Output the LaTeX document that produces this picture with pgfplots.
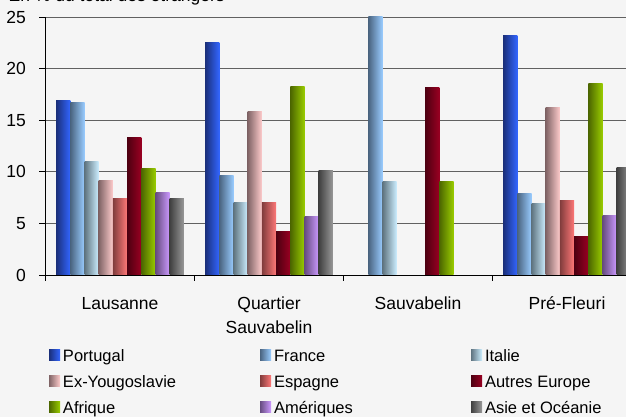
\documentclass[border=0pt]{standalone}
\usepackage{fontspec}
\setmainfont{Liberation Sans}
\usepackage{pgfplots}
\pgfplotsset{compat=1.18}
\definecolor{bg}{HTML}{F5F5F5}
\definecolor{ptA}{HTML}{1A2F7A}\definecolor{ptB}{HTML}{3366FF}
\definecolor{frA}{HTML}{4A6480}\definecolor{frB}{HTML}{99CCFF}
\definecolor{itA}{HTML}{5F7480}\definecolor{itB}{HTML}{CCEEFF}
\definecolor{exA}{HTML}{806466}\definecolor{exB}{HTML}{FFCCCC}
\definecolor{esA}{HTML}{803C3C}\definecolor{esB}{HTML}{FF7878}
\definecolor{auA}{HTML}{4D0011}\definecolor{auB}{HTML}{990022}
\definecolor{afA}{HTML}{4C6600}\definecolor{afB}{HTML}{99CC00}
\definecolor{amA}{HTML}{664C80}\definecolor{amB}{HTML}{CC99FF}
\definecolor{asA}{HTML}{404040}\definecolor{asB}{HTML}{999999}
\pgfplotsset{
  mybar/.style n args={3}{ybar, bar width=0.0953, bar shift=#3, draw=none,
    left color=#1, right color=#2,
    legend image code/.code={\path[draw=none,left color=#1,right color=#2] (0pt,-5.5pt) rectangle (11pt,5.5pt);}},
}
\begin{document}
\begin{tikzpicture}
\path[use as bounding box, clip] (0,0) rectangle (626pt,417pt);
\fill[bg] (0,0) rectangle (626pt,417pt);
\node[anchor=base west, inner sep=0pt, font=\fontsize{17.5pt}{21pt}\selectfont] at (8.5pt,415pt) {En \% du total des étrangers};
\begin{axis}[
  at={(45.5pt,142pt)}, anchor=south west, scale only axis,
  width=596pt, height=258pt,
  xmin=-0.5, xmax=3.5, ymin=0, ymax=25,
  axis x line*=bottom, axis y line*=left,
  axis line style={black, line width=0.9pt, -},
  ytick={0,5,10,15,20,25},
  ymajorgrids, major grid style={draw=black!62, line width=0.8pt},
  tick align=outside, major tick length=6pt,
  tick style={black, line width=0.8pt},
  xtick={-0.5,0.5,1.5,2.5,3.5}, xticklabels={},
  extra x ticks={0,1,2,3},
  extra x tick labels={{\vphantom{É}Lausanne},{\vphantom{É}Quartier\\Sauvabelin},{\vphantom{É}Sauvabelin},{\vphantom{É}Pré-Fleuri}},
  extra x tick style={major tick length=0pt},
  /pgf/number format/assume math mode=true,
  tick label style={font=\fontsize{17.5pt}{24pt}\selectfont},
  yticklabel style={anchor=east, inner sep=0pt, xshift=-13.5pt},
  xticklabel style={anchor=north, inner sep=0pt, align=center, yshift=-19.2pt},
  legend columns=3,
  legend style={at={(0.00587,-0.2752)}, anchor=north west, draw=none, fill=none,
    inner sep=0pt, outer sep=0pt, column sep=3pt, row sep=9pt,
    font=\fontsize{16.5pt}{20pt}\selectfont,
    nodes={inner sep=0pt, text height=15pt, text depth=2pt}},
]
% Portugal
\addplot[mybar={ptA}{ptB}{-0.3812}] coordinates {(0,16.9)};
\addlegendentry{\makebox[194pt][l]{Portugal}}
\addplot[mybar={ptA}{ptB}{-0.3812}, forget plot] coordinates {(1,22.5)};
\addplot[mybar={ptA}{ptB}{-0.3812}, forget plot] coordinates {(3,23.2)};
% France
\addplot[mybar={frA}{frB}{-0.2859}] coordinates {(0,16.7)};
\addlegendentry{\makebox[194pt][l]{France}}
\addplot[mybar={frA}{frB}{-0.2859}, forget plot] coordinates {(1,9.6)};
\addplot[mybar={frA}{frB}{-0.2859}, forget plot] coordinates {(2,25.5)};
\addplot[mybar={frA}{frB}{-0.2859}, forget plot] coordinates {(3,7.9)};
% Italie
\addplot[mybar={itA}{itB}{-0.1906}] coordinates {(0,11.0)};
\addlegendentry{\makebox[194pt][l]{Italie}}
\addplot[mybar={itA}{itB}{-0.1906}, forget plot] coordinates {(1,7.0)};
\addplot[mybar={itA}{itB}{-0.1906}, forget plot] coordinates {(2,9.1)};
\addplot[mybar={itA}{itB}{-0.1906}, forget plot] coordinates {(3,6.9)};
% Ex-Yougoslavie
\addplot[mybar={exA}{exB}{-0.0953}] coordinates {(0,9.2)};
\addlegendentry{\makebox[194pt][l]{Ex-Yougoslavie}}
\addplot[mybar={exA}{exB}{-0.0953}, forget plot] coordinates {(1,15.8)};
\addplot[mybar={exA}{exB}{-0.0953}, forget plot] coordinates {(3,16.2)};
% Espagne
\addplot[mybar={esA}{esB}{0}] coordinates {(0,7.4)};
\addlegendentry{\makebox[194pt][l]{Espagne}}
\addplot[mybar={esA}{esB}{0}, forget plot] coordinates {(1,7.0)};
\addplot[mybar={esA}{esB}{0}, forget plot] coordinates {(3,7.2)};
% Autres Europe
\addplot[mybar={auA}{auB}{0.0953}] coordinates {(0,13.3)};
\addlegendentry{\makebox[194pt][l]{Autres Europe}}
\addplot[mybar={auA}{auB}{0.0953}, forget plot] coordinates {(1,4.2)};
\addplot[mybar={auA}{auB}{0.0953}, forget plot] coordinates {(2,18.2)};
\addplot[mybar={auA}{auB}{0.0953}, forget plot] coordinates {(3,3.7)};
% Afrique
\addplot[mybar={afA}{afB}{0.1906}] coordinates {(0,10.3)};
\addlegendentry{\makebox[194pt][l]{Afrique}}
\addplot[mybar={afA}{afB}{0.1906}, forget plot] coordinates {(1,18.3)};
\addplot[mybar={afA}{afB}{0.1906}, forget plot] coordinates {(2,9.1)};
\addplot[mybar={afA}{afB}{0.1906}, forget plot] coordinates {(3,18.6)};
% Ameriques
\addplot[mybar={amA}{amB}{0.2859}] coordinates {(0,8.0)};
\addlegendentry{\makebox[194pt][l]{Amériques}}
\addplot[mybar={amA}{amB}{0.2859}, forget plot] coordinates {(1,5.7)};
\addplot[mybar={amA}{amB}{0.2859}, forget plot] coordinates {(3,5.8)};
% Asie et Oceanie
\addplot[mybar={asA}{asB}{0.3812}] coordinates {(0,7.4)};
\addlegendentry{\makebox[194pt][l]{Asie et Océanie}}
\addplot[mybar={asA}{asB}{0.3812}, forget plot] coordinates {(1,10.1)};
\addplot[mybar={asA}{asB}{0.3812}, forget plot] coordinates {(3,10.4)};
\end{axis}
\end{tikzpicture}
\end{document}
